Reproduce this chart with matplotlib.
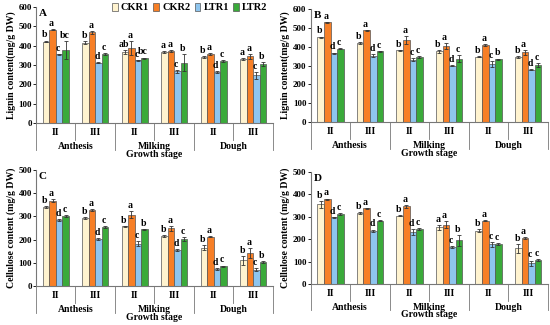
import matplotlib
matplotlib.use("Agg")
import matplotlib.pyplot as plt
import matplotlib.transforms as mtrans
import numpy as np

plt.rcParams['font.family'] = ['Liberation Serif', 'DejaVu Serif']
plt.rcParams['font.weight'] = 'bold'

treatments = ["CKR1", "CKR2", "LTR1", "LTR2"]
colors = ["#FFF3CF", "#F77F26", "#8EC5EE", "#3AAA3A"]
stages = ["Anthesis", "Milking", "Dough"]
subcats = ["II", "III", "II", "III", "II", "III"]

# values per treatment, 6 subcategories (Anthesis II, III, Milking II, III, Dough II, III)
lig_A = [[422, 415, 368, 368, 342, 330],
         [483, 470, 388, 373, 357, 345],
         [355, 313, 325, 268, 263, 247],
         [378, 358, 335, 312, 323, 305]]
lig_A_err = [[5, 8, 10, 6, 5, 6],
             [3, 8, 38, 3, 3, 12],
             [4, 3, 3, 8, 5, 18],
             [45, 6, 4, 45, 5, 10]]
lig_A_let = [["b", "b", "ab", "a", "b", "a"],
             ["a", "a", "a", "a", "a", "a"],
             ["c", "d", "c", "c", "d", "c"],
             ["bc", "c", "bc", "b", "c", "b"]]

lig_B = [[450, 420, 380, 375, 348, 345],
         [530, 487, 437, 405, 410, 370],
         [365, 352, 330, 300, 308, 278],
         [390, 375, 345, 337, 333, 303]]
lig_B_err = [[4, 4, 3, 6, 3, 4],
             [3, 3, 22, 15, 5, 12],
             [4, 8, 8, 4, 18, 4],
             [3, 4, 4, 20, 4, 10]]
lig_B_let = [["b", "b", "b", "b", "b", "b"],
             ["a", "a", "a", "a", "a", "a"],
             ["d", "d", "c", "d", "c", "d"],
             ["c", "c", "c", "c", "b", "c"]]

cel_C = [[340, 293, 257, 216, 165, 110],
         [368, 327, 307, 248, 213, 143],
         [285, 202, 182, 155, 73, 70],
         [302, 255, 244, 202, 85, 103]]
cel_C_err = [[3, 4, 3, 4, 12, 18],
             [7, 3, 15, 10, 3, 22],
             [5, 3, 10, 3, 4, 6],
             [3, 4, 3, 10, 3, 3]]
cel_C_let = [["b", "b", "b", "b", "b", "b"],
             ["a", "a", "a", "a", "a", "a"],
             ["d", "d", "c", "d", "d", "c"],
             ["c", "c", "b", "c", "c", "b"]]

cel_D = [[356, 317, 305, 253, 238, 160],
         [378, 337, 347, 265, 283, 205],
         [297, 237, 232, 165, 177, 93],
         [312, 283, 245, 195, 180, 108]]
cel_D_err = [[15, 5, 3, 12, 6, 20],
             [3, 3, 6, 15, 3, 4],
             [3, 6, 15, 3, 10, 12],
             [3, 3, 4, 25, 4, 3]]
cel_D_let = [["b", "b", "b", "a", "b", "b"],
             ["a", "a", "a", "a", "a", "a"],
             ["d", "d", "d", "c", "c", "c"],
             ["c", "c", "c", "b", "c", "c"]]

fig = plt.figure(figsize=(5.5, 3.25), dpi=100)
positions = [[0.0655, 0.6215, 0.4305, 0.3565],
             [0.565, 0.6246, 0.431, 0.3474],
             [0.0655, 0.12, 0.4305, 0.357],
             [0.565, 0.126, 0.431, 0.345]]
panels = [(lig_A, lig_A_err, lig_A_let, "A", "Lignin content(mg/g DW)", 600),
          (lig_B, lig_B_err, lig_B_let, "B", "Lignin content(mg/g DW)", 600),
          (cel_C, cel_C_err, cel_C_let, "C", "Cellulose content (mg/g DW)", 500),
          (cel_D, cel_D_err, cel_D_let, "D", "Cellulose content (mg/g DW)", 500)]

w = 0.165
x = np.arange(6) + 0.5
handles = []
for pos, (vals, errs, lets, tag, ylab, ymax) in zip(positions, panels):
    ax = fig.add_axes(pos)
    for k in range(4):
        xs = x + (k - 1.5) * w
        b = ax.bar(xs, vals[k], w, color=colors[k], edgecolor="#555555", linewidth=0.5,
                   yerr=errs[k], error_kw=dict(ecolor="#333333", elinewidth=0.6, capsize=1.5, capthick=0.6))
        if tag == "A":
            handles.append(b)
        for xi, v, e, t in zip(xs, vals[k], errs[k], lets[k]):
            ax.text(xi - 0.03, v + e + ymax * 0.01, t, ha="center", va="bottom", fontsize=7, fontweight="bold")
    ax.set_xlim(0, 6)
    ax.set_ylim(0, ymax)
    ax.set_yticks(np.arange(0, ymax + 1, 100))
    ax.tick_params(axis="y", labelsize=6.5, length=2, width=0.6, pad=1)
    for lbl in ax.get_yticklabels():
        lbl.set_fontweight("bold")
    ax.set_xticks([])
    ax.spines["top"].set_visible(False)
    ax.spines["right"].set_visible(False)
    ax.spines["left"].set_color("#777777")
    ax.spines["bottom"].set_color("#777777")
    ax.set_ylabel(ylab, fontsize=7, fontweight="bold", labelpad=2)
    ax.text(0.012, 0.985, tag, transform=ax.transAxes, fontsize=8, fontweight="bold", va="top")
    tr = mtrans.blended_transform_factory(ax.transData, ax.transAxes)
    # multi-level category lines
    for xb in [0, 2, 4, 6]:
        ax.plot([xb, xb], [0, -0.235], transform=tr, color="#777777", lw=0.6, clip_on=False)
    for xb in [1, 3, 5]:
        ax.plot([xb, xb], [0, -0.15], transform=tr, color="#777777", lw=0.6, clip_on=False)
    for xi, s in zip(x, subcats):
        ax.text(xi, -0.085, s, transform=tr, ha="center", va="center", fontsize=7, fontweight="bold")
    for gi, s in enumerate(stages):
        ax.text(2 * gi + 1, -0.205, s, transform=tr, ha="center", va="center", fontsize=7, fontweight="bold")
    ax.text(3, -0.275, "Growth stage", transform=tr, ha="center", va="center", fontsize=7, fontweight="bold")

fig.legend(handles, treatments, loc="upper right", bbox_to_anchor=(0.503, 1.02), ncol=4,
           frameon=False, handlelength=0.55, handleheight=0.8, handletextpad=0.3,
           columnspacing=0.4, prop={"weight": "bold", "size": 7.5})

fig.savefig("out.png", dpi=100)
